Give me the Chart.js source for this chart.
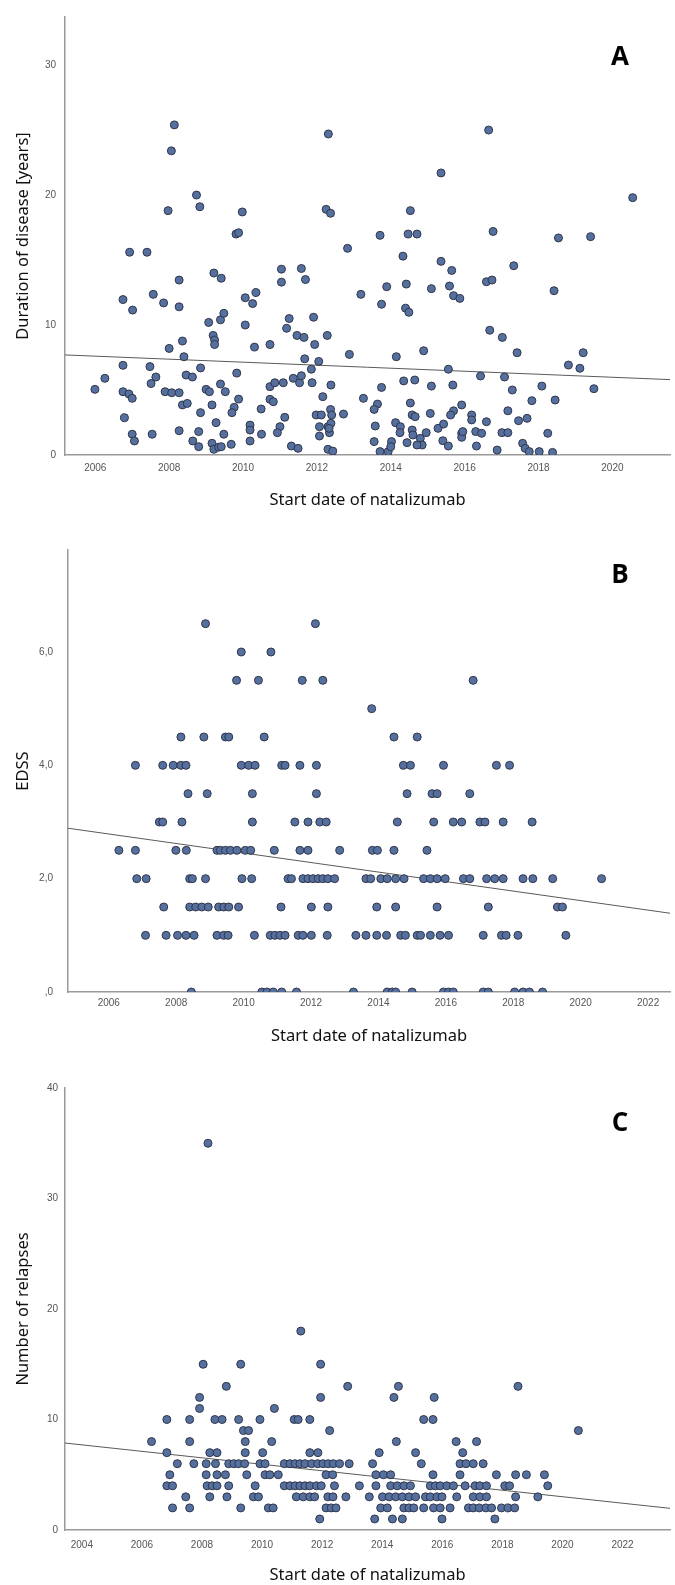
<!DOCTYPE html>
<html><head><meta charset="utf-8">
<script src="https://cdn.jsdelivr.net/npm/chart.js@4/dist/chart.umd.min.js"></script>
<style>
html,body{margin:0;padding:0;background:#fff;}
#wrap{position:relative;width:675px;height:1585px;overflow:hidden;background:#fff;}
.pane{position:absolute;left:0;width:675px;}
.lbl{position:absolute;width:40px;text-align:center;font-family:'Open Sans','Noto Sans',sans-serif;font-weight:700;font-size:26px;color:#000;line-height:1;}
</style></head><body>
<div id="wrap">
  <div class="pane" style="top:0;height:520px"><canvas id="cA"></canvas></div>
  <div class="pane" style="top:520px;height:530px"><canvas id="cB"></canvas></div>
  <div class="pane" style="top:1050px;height:535px"><canvas id="cC"></canvas></div>
  <div class="lbl" style="left:600px;top:42px">A</div>
  <div class="lbl" style="left:600px;top:560px">B</div>
  <div class="lbl" style="left:600px;top:1108px">C</div>
</div>
<script>
// ---------- Panel A: duration of disease vs start date ----------
const dateA = [
2008.14,2008.06,2007.97,2008.74,2008.83,2009.98,2009.81,2009.88,2006.93,2007.40,
2012.31,2012.25,2012.37,2016.65,2015.36,2020.55,2014.53,2013.71,2014.47,2014.71,
2016.77,2018.54,2019.41,2012.83,2014.33,2015.36,2008.27,2009.21,2009.41,2011.04,
2011.58,2011.04,2011.69,2006.75,2007.01,2007.57,2007.85,2008.27,2010.06,2010.26,
2010.35,2009.07,2009.39,2009.48,2010.06,2011.25,2011.18,2011.91,2011.46,2011.65,
2012.28,2009.19,2009.23,2009.23,2008.36,2008.00,2010.31,2010.73,2011.94,2008.40,
2011.67,2006.75,2007.48,2008.85,2011.85,2012.05,2006.26,2007.64,2007.51,2008.46,
2008.63,2009.83,2009.39,2009.52,2009.00,2009.09,2005.99,2006.75,2006.91,2007.00,
2007.89,2008.07,2008.27,2010.73,2010.86,2011.09,2011.36,2011.53,2011.58,2011.87,
2008.36,2008.49,2009.16,2009.76,2009.70,2009.88,2010.49,2010.73,2010.82,2012.16,
2012.38,2008.85,2006.79,2011.13,2009.27,2010.19,2010.19,2011.00,2010.93,2011.98,
2012.12,2012.07,2012.30,2012.38,2008.27,2008.80,2007.00,2007.06,2007.54,2009.48,
2010.50,2012.07,2012.34,2008.64,2008.80,2009.16,2009.21,2009.34,2009.41,2009.68,
2010.19,2011.31,2011.49,2012.30,2012.43,
2015.65,2017.33,2013.89,2013.19,2013.75,2014.42,2014.40,2014.49,2015.10,2015.59,
2015.70,2015.87,2016.59,2016.74,2018.42,2016.68,2017.02,2017.42,2012.88,2014.15,
2014.89,2019.21,2018.81,2019.12,2015.56,2016.43,2017.08,2014.35,2014.65,2015.10,
2015.68,2013.75,2017.29,2018.09,2019.50,2013.26,2013.64,2013.55,2014.53,2015.92,
2015.70,2015.62,2017.82,2018.45,2017.17,2012.72,2015.07,2016.19,2016.19,2014.58,
2014.66,2016.59,2017.46,2017.69,2013.58,2014.13,2014.26,2014.25,2014.58,2014.60,
2014.80,2014.85,2014.96,2014.71,2015.28,2015.43,2015.41,2015.56,2015.92,2015.92,
2015.95,2016.30,2016.46,2016.32,2017.01,2017.17,2016.88,2017.57,2017.64,2017.75,
2018.02,2018.25,2018.38,2013.55,2013.71,2013.93,2014.02,2014.00,2014.44,2012.37,
2012.40,2012.33];
const durationA = [
25.4,23.4,18.8,20.0,19.1,18.7,17.0,17.1,15.6,15.6,
24.7,18.9,18.6,25.0,21.7,19.8,18.8,16.9,17.0,17.0,
17.2,16.7,16.8,15.9,15.3,14.9,13.46,14.0,13.6,14.3,
14.35,13.3,13.5,11.96,11.15,12.36,11.7,11.4,12.1,11.65,
12.5,10.2,10.4,10.9,10.0,10.5,9.75,10.6,9.2,9.05,
9.2,9.2,8.85,8.5,8.77,8.2,8.3,8.5,8.5,7.56,
7.4,6.9,6.8,6.7,6.6,7.2,5.9,6.0,5.5,6.15,
6.0,6.3,5.46,4.87,5.05,4.87,5.05,4.87,4.7,4.36,
4.87,4.79,4.79,5.26,5.56,5.56,5.9,5.56,6.1,5.56,
3.85,3.97,3.85,3.67,3.26,4.3,3.54,4.28,4.1,4.49,
5.38,3.26,2.87,2.9,2.49,2.3,1.92,2.18,1.72,3.08,
3.08,2.18,2.18,2.44,1.87,1.8,1.6,1.08,1.6,1.6,
1.6,1.46,1.72,1.08,0.64,0.9,0.44,0.6,0.64,0.82,
1.08,0.69,0.51,0.44,0.3,
14.2,14.56,12.95,12.36,11.6,13.15,11.3,10.98,12.8,13.0,
12.26,12.05,13.33,13.46,12.64,9.6,9.05,7.87,7.74,7.56,
8.02,7.87,6.92,6.67,6.6,6.08,6.0,5.7,5.77,5.3,
5.38,5.2,5.0,5.3,5.1,4.36,3.92,3.51,4.0,3.85,
3.4,3.08,4.18,4.23,3.4,3.15,3.2,3.08,2.7,3.08,
2.95,2.56,2.64,2.82,2.23,2.49,2.18,1.72,1.92,1.54,
1.28,0.77,1.72,0.77,2.05,2.38,1.1,0.69,1.67,1.36,
1.8,1.8,1.67,0.69,1.72,1.72,0.38,0.9,0.51,0.26,
0.26,1.67,0.2,1.03,0.26,0.26,1.03,0.64,0.95,3.5,
3.08,2.05];
const fitXA = [2005.18, 2021.56];
const fitYA = [7.7, 5.8];
const xTicksA = [2006,2008,2010,2012,2014,2016,2018,2020];
const yTicksA = [0,10,20,30];
const yTickLabelsA = ['0','10','20','30'];

// ---------- Panel B: EDSS vs start date ----------
const edssLevelsB = [6.5, 6.0, 5.5, 5.0, 4.5, 4.0, 3.5, 3.0, 2.5, 2.0, 1.5, 1.0, 0];
const datesByEdssB = [
  [2008.87, 2012.13],
  [2009.93, 2010.81],
  [2009.79, 2010.44, 2011.74, 2012.35, 2016.81],
  [2013.80],
  [2008.14, 2008.82, 2009.46, 2009.56, 2010.61, 2014.46, 2015.15],
  [2006.79, 2007.60, 2007.91, 2008.14, 2008.29, 2009.93, 2010.15, 2010.34, 2011.13, 2011.23, 2011.67, 2012.16, 2014.74, 2014.95, 2015.93, 2017.50, 2017.89],
  [2008.35, 2008.92, 2010.26, 2012.16, 2014.85, 2015.59, 2015.74, 2016.71],
  [2007.50, 2007.60, 2008.17, 2010.26, 2011.52, 2011.91, 2012.26, 2012.45, 2014.56, 2015.64, 2016.22, 2016.47, 2017.01, 2017.16, 2017.70, 2018.56],
  [2006.30, 2006.79, 2007.99, 2008.30, 2009.21, 2009.31, 2009.46, 2009.61, 2009.80, 2010.05, 2010.21, 2010.91, 2011.67, 2011.91, 2012.85, 2013.82, 2013.97, 2014.46, 2015.44],
  [2006.83, 2007.11, 2008.40, 2008.48, 2008.87, 2009.95, 2010.24, 2011.32, 2011.42, 2011.76, 2011.91, 2012.06, 2012.21, 2012.35, 2012.50, 2012.70, 2013.63, 2013.77, 2014.07, 2014.26, 2014.51, 2014.76, 2015.34, 2015.54, 2015.74, 2015.98, 2016.52, 2016.71, 2017.21, 2017.45, 2017.70, 2018.29, 2018.58, 2019.17, 2020.62],
  [2007.63, 2008.40, 2008.58, 2008.76, 2008.95, 2009.26, 2009.41, 2009.56, 2009.85, 2011.11, 2012.01, 2012.50, 2013.95, 2014.51, 2015.74, 2017.26, 2019.31, 2019.46],
  [2007.09, 2007.70, 2008.04, 2008.29, 2008.53, 2009.21, 2009.41, 2009.54, 2010.32, 2010.79, 2010.93, 2011.08, 2011.23, 2011.62, 2011.76, 2012.01, 2012.48, 2013.33, 2013.63, 2013.95, 2014.24, 2014.66, 2014.80, 2015.15, 2015.25, 2015.54, 2015.83, 2016.08, 2017.11, 2017.65, 2017.79, 2018.14, 2019.56],
  [2008.45, 2010.54, 2010.69, 2010.88, 2011.13, 2011.57, 2013.26, 2014.26, 2014.41, 2014.51, 2015.00, 2015.93, 2016.08, 2016.22, 2017.11, 2017.26, 2018.04, 2018.29, 2018.48, 2018.87]
];
const fitXB = [2004.79, 2022.65];
const fitYB = [2.89, 1.39];
const xTicksB = [2006,2008,2010,2012,2014,2016,2018,2020,2022];
const yTicksB = [0,2,4,6];
const yTickLabelsB = [',0','2,0','4,0','6,0'];

// ---------- Panel C: number of relapses vs start date ----------
const relapseLevelsC = [35, 18, 15, 13, 12, 11, 10, 9, 8, 7, 6, 5, 4, 3, 2, 1];
const datesByRelapsesC = [
  [2008.20],
  [2011.29],
  [2008.04, 2009.29, 2011.95],
  [2008.81, 2012.85, 2014.54, 2018.52],
  [2007.92, 2011.95, 2014.39, 2015.73],
  [2007.92, 2010.41],
  [2006.83, 2007.59, 2008.43, 2008.67, 2009.22, 2009.93, 2011.07, 2011.20, 2011.59, 2015.38, 2015.69],
  [2009.38, 2009.55, 2012.25, 2020.53],
  [2006.32, 2007.59, 2009.44, 2010.32, 2014.47, 2016.46, 2017.14],
  [2006.83, 2008.26, 2008.50, 2009.44, 2010.02, 2011.59, 2011.86, 2013.90, 2015.11, 2016.68],
  [2007.18, 2007.73, 2008.14, 2008.45, 2008.89, 2009.06, 2009.22, 2009.42, 2009.93, 2010.10, 2010.74, 2010.93, 2011.10, 2011.26, 2011.43, 2011.65, 2011.85, 2012.03, 2012.20, 2012.37, 2012.58, 2012.90, 2013.68, 2015.30, 2016.59, 2016.79, 2017.03, 2017.36],
  [2006.93, 2008.14, 2008.50, 2008.78, 2009.49, 2010.10, 2010.26, 2010.54, 2012.13, 2012.35, 2013.79, 2014.04, 2014.28, 2015.69, 2016.59, 2017.80, 2018.44, 2018.80, 2019.40],
  [2006.83, 2007.02, 2008.17, 2008.34, 2008.50, 2008.89, 2009.77, 2010.74, 2010.93, 2011.10, 2011.26, 2011.43, 2011.59, 2011.81, 2011.97, 2012.41, 2013.24, 2013.79, 2014.28, 2014.50, 2014.72, 2014.94, 2015.60, 2015.77, 2015.93, 2016.15, 2016.37, 2016.76, 2017.09, 2017.25, 2017.47, 2018.08, 2018.24, 2019.51],
  [2007.46, 2008.26, 2008.83, 2009.71, 2009.88, 2011.14, 2011.37, 2011.59, 2011.75, 2012.19, 2012.36, 2012.79, 2013.57, 2014.01, 2014.23, 2014.45, 2014.67, 2014.89, 2015.11, 2015.44, 2015.60, 2015.82, 2015.99, 2016.48, 2017.03, 2017.25, 2017.47, 2018.44, 2019.18],
  [2007.02, 2007.59, 2009.29, 2010.21, 2010.37, 2012.13, 2012.30, 2012.46, 2013.95, 2014.17, 2014.72, 2014.89, 2015.05, 2015.38, 2015.71, 2015.93, 2016.26, 2016.87, 2017.03, 2017.23, 2017.45, 2017.64, 2017.97, 2018.19, 2018.41],
  [2011.92, 2013.75, 2014.34, 2014.67, 2015.99, 2017.75]
];
const fitXC = [2003.44, 2023.58];
const fitYC = [7.87, 1.96];
const xTicksC = [2004,2006,2008,2010,2012,2014,2016,2018,2020,2022];
const yTicksC = [0,10,20,30,40];
const yTickLabelsC = ['0','10','20','30','40'];

// ---------- shared rendering ----------
const tickFont = { family: "'Liberation Sans Narrow', 'Liberation Sans', Arial, sans-serif", size: 10 };
const titleFont = { family: "'Noto Sans', 'Open Sans', sans-serif", size: 16.5 };

function pairs(xs, ys) { return xs.map((x, i) => ({ x: x, y: ys[i] })); }
function levelPairs(levels, groups) {
  const out = [];
  groups.forEach((g, k) => g.forEach(x => out.push({ x: x, y: levels[k] })));
  return out;
}

function build(cfg) {
  new Chart(document.getElementById(cfg.id), {
    type: 'scatter',
    data: { datasets: [
      { data: cfg.points, pointRadius: 4, pointHoverRadius: 4,
        pointBackgroundColor: '#55709f', pointBorderColor: '#30364a', pointBorderWidth: 1, order: 1 },
      { type: 'line', data: pairs(cfg.fitX, cfg.fitY), borderColor: '#5a5a5a', borderWidth: 1,
        pointRadius: 0, fill: false, tension: 0, order: 2 }
    ]},
    options: {
      responsive: true, maintainAspectRatio: false, animation: false, events: [],
      layout: { padding: { top: cfg.padTop, left: 0, right: 0, bottom: 0 } },
      plugins: { legend: { display: false }, tooltip: { enabled: false } },
      scales: {
        x: {
          type: 'linear', min: cfg.xMin, max: cfg.xMax,
          grid: { display: false, drawTicks: false },
          border: { display: true, color: '#9a9a9a', width: 1.5 },
          ticks: { padding: cfg.xTickPad, color: '#555', font: tickFont, maxRotation: 0, autoSkip: false,
                   callback: (v, i) => String(cfg.xTicks[i]) },
          afterBuildTicks: (s) => { s.ticks = cfg.xTicks.map(v => ({ value: v })); },
          afterFit: (s) => { s.height = cfg.xAxisH; },
          title: { display: true, text: 'Start date of natalizumab', color: '#111', font: titleFont,
                   padding: { top: 0, bottom: cfg.xTitlePad } }
        },
        y: {
          type: 'linear', min: 0, max: cfg.yMax,
          grid: { display: false, drawTicks: false },
          border: { display: true, color: '#9a9a9a', width: 1.5 },
          ticks: { padding: cfg.yTickPad, color: '#555', font: tickFont, autoSkip: false,
                   callback: (v, i) => cfg.yTickLabels[i] },
          afterBuildTicks: (s) => { s.ticks = cfg.yTicks.map(v => ({ value: v })); },
          afterFit: (s) => { s.width = cfg.yAxisW; },
          title: { display: true, text: cfg.yTitle, color: '#111', font: titleFont,
                   padding: { top: cfg.yTitlePad, bottom: 0 } }
        }
      }
    }
  });
}

build({ id: 'cA', points: pairs(dateA, durationA), fitX: fitXA, fitY: fitYA,
  padTop: 17, xAxisH: 65, yAxisW: 65, xMin: 2005.18, xMax: 2021.56, yMax: 33.7,
  xTicks: xTicksA, yTicks: yTicksA, yTickLabels: yTickLabelsA,
  xTickPad: 7.5, yTickPad: 9, xTitlePad: 10, yTitle: 'Duration of disease [years]', yTitlePad: 13 });

build({ id: 'cB', points: levelPairs(edssLevelsB, datesByEdssB), fitX: fitXB, fitY: fitYB,
  padTop: 30, xAxisH: 58, yAxisW: 68, xMin: 2004.79, xMax: 2022.65, yMax: 7.8,
  xTicks: xTicksB, yTicks: yTicksB, yTickLabels: yTickLabelsB,
  xTickPad: 5.5, yTickPad: 15, xTitlePad: 4, yTitle: 'EDSS', yTitlePad: 13 });

build({ id: 'cC', points: levelPairs(relapseLevelsC, datesByRelapsesC), fitX: fitXC, fitY: fitYC,
  padTop: 38, xAxisH: 55, yAxisW: 65, xMin: 2003.44, xMax: 2023.58, yMax: 40,
  xTicks: xTicksC, yTicks: yTicksC, yTickLabels: yTickLabelsC,
  xTickPad: 9.5, yTickPad: 7, xTitlePad: 0, yTitle: 'Number of relapses', yTitlePad: 13 });
</script>
</body></html>
